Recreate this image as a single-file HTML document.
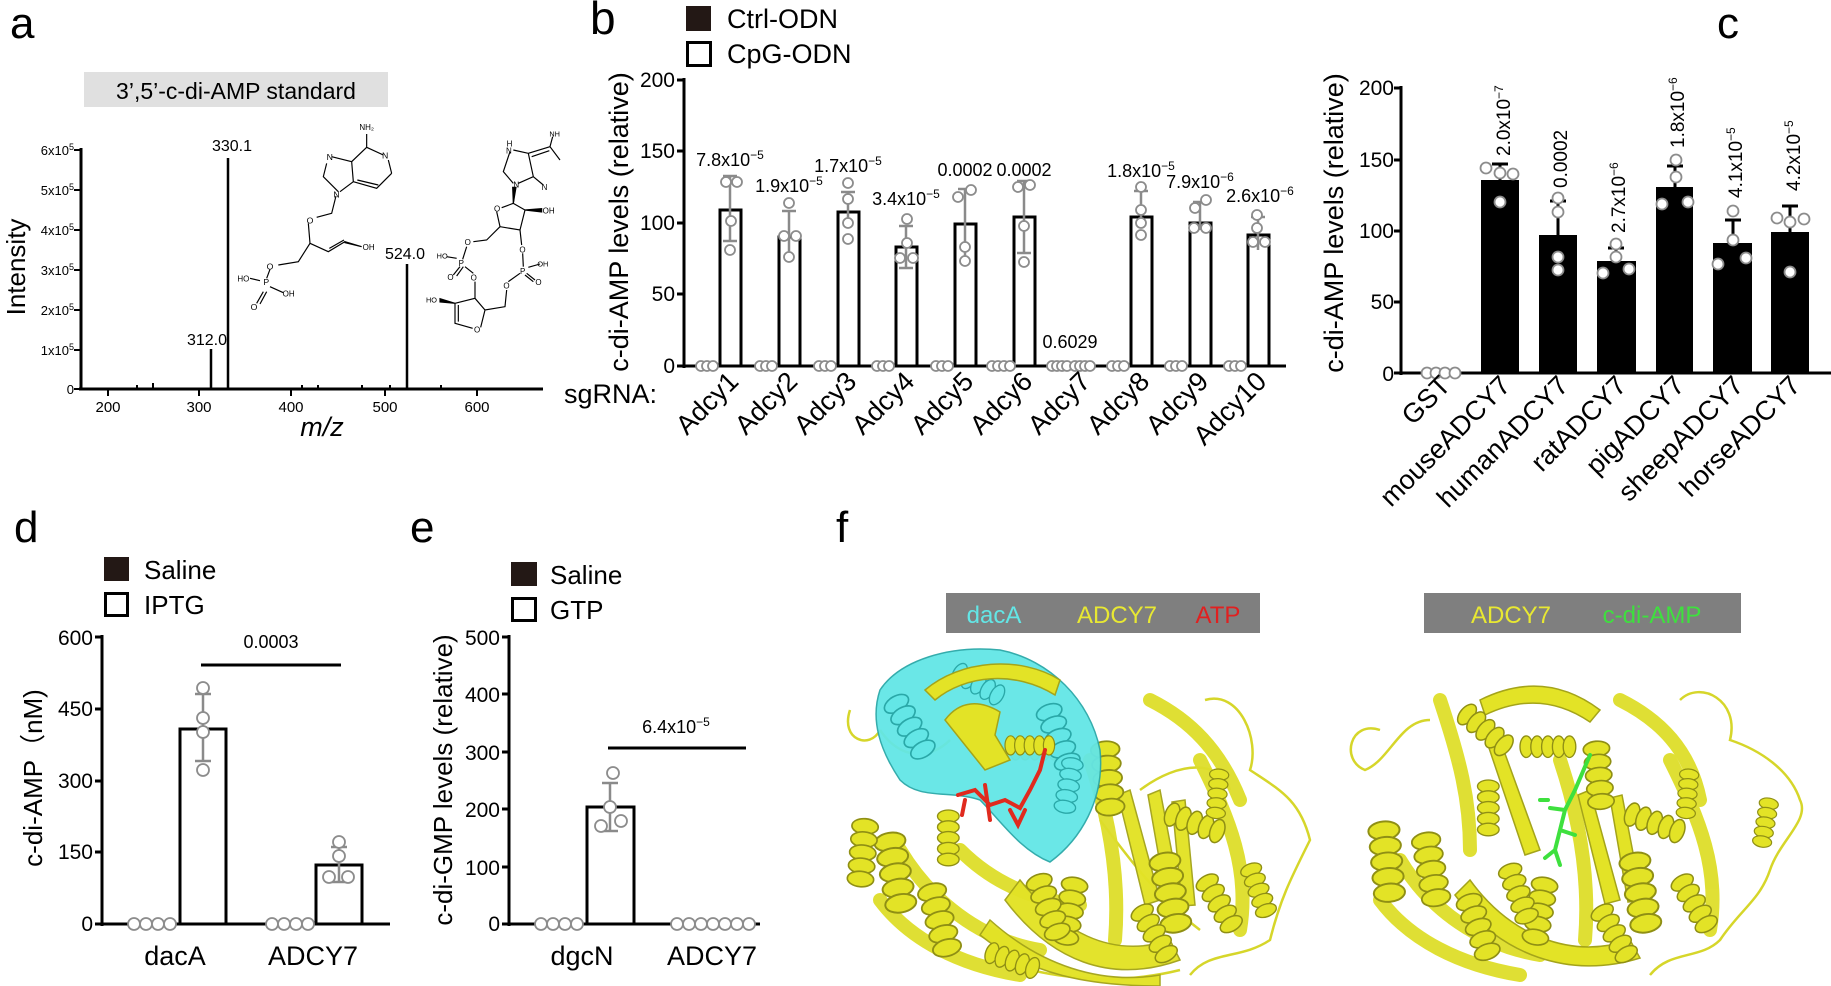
<!DOCTYPE html>
<html><head><meta charset="utf-8"><style>
html,body{margin:0;padding:0;background:#fff}
svg{display:block;font-family:"Liberation Sans",Arial,sans-serif}
</style></head><body>
<svg width="1831" height="986" viewBox="0 0 1831 986" xmlns="http://www.w3.org/2000/svg">
<defs>
<symbol id="hx" viewBox="0 0 64 26" overflow="visible">
<g fill="#e3e326" stroke="#8f8f14" stroke-width="1.5">
<ellipse cx="7" cy="13" rx="7" ry="12"/><ellipse cx="19" cy="13" rx="7" ry="12"/><ellipse cx="31" cy="13" rx="7" ry="12"/><ellipse cx="43" cy="13" rx="7" ry="12"/><ellipse cx="55" cy="13" rx="7" ry="12"/>
</g></symbol>
<symbol id="hc" viewBox="0 0 64 26" overflow="visible">
<g fill="#63e6e6" stroke="#2aa8a8" stroke-width="1.5">
<ellipse cx="7" cy="13" rx="7" ry="12"/><ellipse cx="19" cy="13" rx="7" ry="12"/><ellipse cx="31" cy="13" rx="7" ry="12"/><ellipse cx="43" cy="13" rx="7" ry="12"/><ellipse cx="55" cy="13" rx="7" ry="12"/>
</g></symbol>
</defs>

<!-- ================= Panel a ================= -->
<text x="10" y="38" font-size="44">a</text>
<rect x="84" y="72" width="304" height="35" fill="#e0e0e0"/>
<text x="236" y="99" font-size="23" text-anchor="middle">3’,5’-c-di-AMP standard</text>
<g stroke="#000" stroke-width="3" fill="none">
<line x1="81" y1="148" x2="81" y2="390"/>
<line x1="79" y1="389" x2="543" y2="389"/>
</g>
<g stroke="#000" stroke-width="2">
<line x1="74" y1="150" x2="81" y2="150"/><line x1="74" y1="190" x2="81" y2="190"/><line x1="74" y1="230" x2="81" y2="230"/><line x1="74" y1="270" x2="81" y2="270"/><line x1="74" y1="310" x2="81" y2="310"/><line x1="74" y1="350" x2="81" y2="350"/><line x1="74" y1="389" x2="81" y2="389"/>
<line x1="108" y1="389" x2="108" y2="396"/><line x1="199" y1="389" x2="199" y2="396"/><line x1="291" y1="389" x2="291" y2="396"/><line x1="385" y1="389" x2="385" y2="396"/><line x1="477" y1="389" x2="477" y2="396"/>
<line x1="137" y1="385" x2="137" y2="389"/><line x1="153" y1="383" x2="153" y2="389"/><line x1="302" y1="385" x2="302" y2="389"/><line x1="318" y1="385" x2="318" y2="389"/><line x1="362" y1="385" x2="362" y2="389"/><line x1="390" y1="385" x2="390" y2="389"/><line x1="441" y1="385" x2="441" y2="389"/>
</g>
<g stroke="#000" stroke-width="2.5">
<line x1="211" y1="389" x2="211" y2="349"/><line x1="228" y1="389" x2="228" y2="158"/><line x1="407" y1="389" x2="407" y2="264"/>
</g>
<g font-size="16" text-anchor="middle">
<text x="207" y="345">312.0</text><text x="232" y="151">330.1</text><text x="405" y="259">524.0</text>
</g>
<g font-size="13" text-anchor="end">
<text x="74" y="155">6x10<tspan font-size="9" dy="-5">5</tspan></text>
<text x="74" y="195">5x10<tspan font-size="9" dy="-5">5</tspan></text>
<text x="74" y="235">4x10<tspan font-size="9" dy="-5">5</tspan></text>
<text x="74" y="275">3x10<tspan font-size="9" dy="-5">5</tspan></text>
<text x="74" y="315">2x10<tspan font-size="9" dy="-5">5</tspan></text>
<text x="74" y="355">1x10<tspan font-size="9" dy="-5">5</tspan></text>
<text x="74" y="394">0</text>
</g>
<g font-size="15" text-anchor="middle">
<text x="108" y="412">200</text><text x="199" y="412">300</text><text x="291" y="412">400</text><text x="385" y="412">500</text><text x="477" y="412">600</text>
</g>
<text x="322" y="436" font-size="27" font-style="italic" text-anchor="middle">m/z</text>
<text transform="translate(25,267) rotate(-90)" font-size="26" text-anchor="middle">Intensity</text>

<g transform="translate(60,110) scale(0.33333)" stroke="#000" stroke-width="3.5" fill="none">
<path d="M920,112 L920,72 M920,112 L970,135 M995,190 L950,235 L880,215 L875,155 L920,112 M985,150 L995,190 M875,155 L815,140 M800,160 L790,200 L835,245 M880,215 L840,245 M955,225 L892,210"/>
<path d="M828,258 L815,310 L770,322 M745,340 L750,400 L715,455 L655,465 M630,478 L620,505 M600,512 L570,505 M630,530 L670,548 M610,545 L590,580 M620,545 L600,582 M750,400 L805,425 L855,395 M808,415 L852,390"/>
<path d="M855,395 L905,410 L855,398Z" fill="#000"/>
<path d="M1350,125 L1330,185 L1360,220 M1375,220 L1420,200 L1405,130 L1360,120 M1405,130 L1470,110 L1500,150 M1420,200 L1450,225 M1470,110 L1478,80 M1415,140 L1468,122"/>
<path d="M1365,235 L1360,280 L1325,293 M1310,305 L1320,350 L1380,360 L1395,300 L1360,280 M1320,350 L1280,390 L1240,395 M1220,410 L1208,448 M1190,445 L1160,440 M1200,470 L1180,495 M1210,470 L1190,498 M1215,470 L1240,490 M1245,515 L1245,565 M1380,360 L1385,405 M1388,430 L1390,470 M1405,472 L1440,462 M1400,490 L1425,510 M1395,495 L1420,515 M1380,490 L1345,515 M1340,540 L1335,590 L1275,600 L1245,565 L1185,580 L1185,640 L1238,655 M1262,652 L1275,600 M1195,585 L1195,635"/>
<path d="M1360,280 L1358,232 L1368,232Z M1395,300 L1445,296 L1445,306Z M1185,580 L1140,566 L1140,576Z" fill="#000"/>
</g>
<g transform="translate(60,110) scale(0.33333)" font-size="30" fill="#000">
<text x="898" y="60" font-size="24">NH₂</text><text x="966" y="145" font-size="26">N</text><text x="800" y="150" font-size="26">N</text><text x="820" y="262" font-size="26">N</text>
<text x="740" y="340" font-size="26">O</text><text x="620" y="478" font-size="26">O</text><text x="610" y="525" font-size="26">P</text><text x="532" y="515" font-size="24">HO</text><text x="668" y="560" font-size="24">OH</text><text x="572" y="600" font-size="26">O</text><text x="908" y="420" font-size="24">OH</text>
<text x="1468" y="80" font-size="22">NH</text><text x="1340" y="110" font-size="24">H</text><text x="1338" y="130" font-size="24">N</text><text x="1360" y="232" font-size="24">N</text><text x="1445" y="240" font-size="24">N</text>
<text x="1302" y="305" font-size="24">O</text><text x="1448" y="310" font-size="24">OH</text><text x="1214" y="405" font-size="24">O</text><text x="1196" y="468" font-size="24">P</text><text x="1130" y="445" font-size="22">HO</text><text x="1162" y="510" font-size="24">O</text><text x="1232" y="512" font-size="24">O</text>
<text x="1378" y="427" font-size="24">O</text><text x="1380" y="492" font-size="24">P</text><text x="1432" y="470" font-size="22">OH</text><text x="1426" y="525" font-size="24">O</text><text x="1330" y="535" font-size="24">O</text><text x="1098" y="578" font-size="22">HO</text><text x="1242" y="668" font-size="24">O</text>
</g>

<!-- ================= Panel b ================= -->
<text x="590" y="34" font-size="46">b</text>
<rect x="686" y="6" width="25" height="25" fill="#231815"/>
<rect x="687.5" y="42.5" width="23" height="23" fill="#fff" stroke="#000" stroke-width="3"/>
<text x="727" y="28" font-size="27">Ctrl-ODN</text>
<text x="727" y="63" font-size="27">CpG-ODN</text>
<text transform="translate(628,222) rotate(-90)" font-size="27" text-anchor="middle">c-di-AMP levels (relative)</text>
<g font-size="21" text-anchor="end">
<text x="675" y="87">200</text><text x="675" y="158">150</text><text x="675" y="230">100</text><text x="675" y="301">50</text><text x="675" y="373">0</text>
</g>
<g stroke="#000" stroke-width="3">
<line x1="684" y1="78" x2="684" y2="368"/>
<line x1="677" y1="80" x2="684" y2="80"/><line x1="677" y1="151" x2="684" y2="151"/><line x1="677" y1="223" x2="684" y2="223"/><line x1="677" y1="294" x2="684" y2="294"/>
<line x1="677" y1="366" x2="1286" y2="366"/>
</g>
<g fill="#fff" stroke="#000" stroke-width="3">
<rect x="720" y="210" width="21" height="156"/>
<rect x="779" y="237" width="21" height="129"/>
<rect x="838" y="212" width="21" height="154"/>
<rect x="896" y="247" width="21" height="119"/>
<rect x="955" y="224" width="21" height="142"/>
<rect x="1014" y="217" width="21" height="149"/>
<rect x="1131" y="217" width="21" height="149"/>
<rect x="1190" y="223" width="21" height="143"/>
<rect x="1248" y="235" width="21" height="131"/>
</g>
<g stroke="#8a8a8a" stroke-width="2.5" fill="none">
<path d="M730,176 V241 M723,176 H737 M723,241 H737"/>
<path d="M789,211 V262 M782,211 H796"/>
<path d="M848,192 V226 M841,192 H855"/>
<path d="M906,226 V268 M899,226 H913 M899,268 H913"/>
<path d="M965,189 V260 M958,189 H972"/>
<path d="M1024,181 V253 M1017,181 H1031 M1017,253 H1031"/>
<path d="M1141,191 V225 M1134,191 H1148"/>
<path d="M1200,202 V230 M1193,202 H1207"/>
<path d="M1258,217 V250 M1251,217 H1265"/>
</g>
<g fill="#fff" stroke="#8c8c8c" stroke-width="1.8">
<circle cx="726" cy="182" r="5"/><circle cx="737" cy="182" r="5"/><circle cx="731" cy="221" r="5"/><circle cx="730" cy="250" r="5"/>
<circle cx="789" cy="203" r="5"/><circle cx="784" cy="236" r="5"/><circle cx="796" cy="236" r="5"/><circle cx="789" cy="257" r="5"/>
<circle cx="848" cy="183" r="5"/><circle cx="848" cy="199" r="5"/><circle cx="848" cy="223" r="5"/><circle cx="848" cy="239" r="5"/>
<circle cx="907" cy="219" r="5"/><circle cx="907" cy="243" r="5"/><circle cx="900" cy="258" r="5"/><circle cx="913" cy="258" r="5"/>
<circle cx="958" cy="197" r="5"/><circle cx="971" cy="190" r="5"/><circle cx="965" cy="247" r="5"/><circle cx="965" cy="261" r="5"/>
<circle cx="1018" cy="187" r="5"/><circle cx="1030" cy="185" r="5"/><circle cx="1024" cy="226" r="5"/><circle cx="1024" cy="262" r="5"/>
<circle cx="1141" cy="187" r="5"/><circle cx="1141" cy="210" r="5"/><circle cx="1141" cy="223" r="5"/><circle cx="1141" cy="235" r="5"/>
<circle cx="1195" cy="208" r="5"/><circle cx="1206" cy="200" r="5"/><circle cx="1194" cy="228" r="5"/><circle cx="1206" cy="228" r="5"/>
<circle cx="1257" cy="215" r="5"/><circle cx="1257" cy="228" r="5"/><circle cx="1253" cy="242" r="5"/><circle cx="1265" cy="242" r="5"/>
<circle cx="701" cy="366" r="5"/><circle cx="707" cy="366" r="5"/><circle cx="713" cy="366" r="5"/>
<circle cx="760" cy="366" r="5"/><circle cx="766" cy="366" r="5"/><circle cx="772" cy="366" r="5"/>
<circle cx="819" cy="366" r="5"/><circle cx="825" cy="366" r="5"/><circle cx="831" cy="366" r="5"/>
<circle cx="877" cy="366" r="5"/><circle cx="883" cy="366" r="5"/><circle cx="889" cy="366" r="5"/>
<circle cx="936" cy="366" r="5"/><circle cx="942" cy="366" r="5"/><circle cx="948" cy="366" r="5"/>
<circle cx="992" cy="366" r="5"/><circle cx="998" cy="366" r="5"/><circle cx="1004" cy="366" r="5"/><circle cx="1010" cy="366" r="5"/>
<circle cx="1052" cy="366" r="5"/><circle cx="1057" cy="366" r="5"/><circle cx="1062" cy="366" r="5"/><circle cx="1067" cy="366" r="5"/>
<circle cx="1075" cy="366" r="5"/><circle cx="1080" cy="366" r="5"/><circle cx="1085" cy="366" r="5"/><circle cx="1090" cy="366" r="5"/>
<circle cx="1112" cy="366" r="5"/><circle cx="1118" cy="366" r="5"/><circle cx="1124" cy="366" r="5"/>
<circle cx="1170" cy="366" r="5"/><circle cx="1176" cy="366" r="5"/><circle cx="1182" cy="366" r="5"/>
<circle cx="1229" cy="366" r="5"/><circle cx="1235" cy="366" r="5"/><circle cx="1241" cy="366" r="5"/>
</g>
<g font-size="18" text-anchor="middle">
<text x="730" y="166">7.8x10<tspan font-size="12" dy="-7">−5</tspan></text>
<text x="789" y="192">1.9x10<tspan font-size="12" dy="-7">−5</tspan></text>
<text x="848" y="172">1.7x10<tspan font-size="12" dy="-7">−5</tspan></text>
<text x="906" y="205">3.4x10<tspan font-size="12" dy="-7">−5</tspan></text>
<text x="965" y="176">0.0002</text>
<text x="1024" y="176">0.0002</text>
<text x="1070" y="348">0.6029</text>
<text x="1141" y="177">1.8x10<tspan font-size="12" dy="-7">−5</tspan></text>
<text x="1200" y="188">7.9x10<tspan font-size="12" dy="-7">−6</tspan></text>
<text x="1260" y="202">2.6x10<tspan font-size="12" dy="-7">−6</tspan></text>
</g>
<text x="564" y="403" font-size="27">sgRNA:</text>
<g font-size="27" text-anchor="end">
<text transform="translate(740,383) rotate(-45)">Adcy1</text>
<text transform="translate(799,383) rotate(-45)">Adcy2</text>
<text transform="translate(858,383) rotate(-45)">Adcy3</text>
<text transform="translate(916,383) rotate(-45)">Adcy4</text>
<text transform="translate(975,383) rotate(-45)">Adcy5</text>
<text transform="translate(1034,383) rotate(-45)">Adcy6</text>
<text transform="translate(1092,383) rotate(-45)">Adcy7</text>
<text transform="translate(1151,383) rotate(-45)">Adcy8</text>
<text transform="translate(1210,383) rotate(-45)">Adcy9</text>
<text transform="translate(1268,383) rotate(-45)">Adcy10</text>
</g>

<!-- ================= Panel c ================= -->
<text x="1717" y="38" font-size="44">c</text>
<text transform="translate(1343,223) rotate(-90)" font-size="27" text-anchor="middle">c-di-AMP levels (relative)</text>
<g font-size="21" text-anchor="end">
<text x="1394" y="95">200</text><text x="1394" y="167">150</text><text x="1394" y="238">100</text><text x="1394" y="309">50</text><text x="1394" y="381">0</text>
</g>
<g stroke="#000" stroke-width="3">
<line x1="1401" y1="86" x2="1401" y2="375"/>
<line x1="1394" y1="88" x2="1401" y2="88"/><line x1="1394" y1="160" x2="1401" y2="160"/><line x1="1394" y1="231" x2="1401" y2="231"/><line x1="1394" y1="302" x2="1401" y2="302"/>
<line x1="1394" y1="373" x2="1831" y2="373"/>
</g>
<g fill="#000">
<rect x="1481" y="180" width="38" height="193"/>
<rect x="1539" y="235" width="38" height="138"/>
<rect x="1597" y="261" width="39" height="112"/>
<rect x="1656" y="187" width="37" height="186"/>
<rect x="1713" y="243" width="39" height="130"/>
<rect x="1771" y="232" width="38" height="141"/>
</g>
<g stroke="#000" stroke-width="3">
<path d="M1500,180 V164 M1492,164 H1508"/>
<path d="M1558,235 V201 M1550,201 H1566"/>
<path d="M1616,261 V248 M1608,248 H1624"/>
<path d="M1675,187 V166 M1667,166 H1683"/>
<path d="M1733,243 V220 M1725,220 H1741"/>
<path d="M1790,232 V206 M1782,206 H1798"/>
</g>
<g fill="#fff" stroke="#8c8c8c" stroke-width="1.8">
<circle cx="1486" cy="168" r="5.5"/><circle cx="1500" cy="173" r="5.5"/><circle cx="1513" cy="174" r="5.5"/><circle cx="1500" cy="202" r="5.5"/>
<circle cx="1558" cy="198" r="5.5"/><circle cx="1558" cy="212" r="5.5"/><circle cx="1558" cy="257" r="5.5"/><circle cx="1558" cy="270" r="5.5"/>
<circle cx="1616" cy="244" r="5.5"/><circle cx="1616" cy="257" r="5.5"/><circle cx="1603" cy="273" r="5.5"/><circle cx="1629" cy="269" r="5.5"/>
<circle cx="1676" cy="160" r="5.5"/><circle cx="1676" cy="177" r="5.5"/><circle cx="1662" cy="204" r="5.5"/><circle cx="1688" cy="202" r="5.5"/>
<circle cx="1733" cy="211" r="5.5"/><circle cx="1733" cy="240" r="5.5"/><circle cx="1718" cy="264" r="5.5"/><circle cx="1746" cy="258" r="5.5"/>
<circle cx="1777" cy="218" r="5.5"/><circle cx="1790" cy="222" r="5.5"/><circle cx="1804" cy="219" r="5.5"/><circle cx="1790" cy="272" r="5.5"/>
<circle cx="1427" cy="373" r="5.5"/><circle cx="1436" cy="373" r="5.5"/><circle cx="1445" cy="373" r="5.5"/><circle cx="1455" cy="373" r="5.5"/>
</g>
<g font-size="19">
<text transform="translate(1510,156) rotate(-90)">2.0x10<tspan font-size="12" dy="-7">−7</tspan></text>
<text transform="translate(1567,188) rotate(-90)">0.0002</text>
<text transform="translate(1625,233) rotate(-90)">2.7x10<tspan font-size="12" dy="-7">−6</tspan></text>
<text transform="translate(1684,148) rotate(-90)">1.8x10<tspan font-size="12" dy="-7">−6</tspan></text>
<text transform="translate(1742,198) rotate(-90)">4.1x10<tspan font-size="12" dy="-7">−5</tspan></text>
<text transform="translate(1800,191) rotate(-90)">4.2x10<tspan font-size="12" dy="-7">−5</tspan></text>
</g>
<g font-size="27" text-anchor="end">
<text transform="translate(1452,387) rotate(-45)">GST</text>
<text transform="translate(1512,387) rotate(-45)">mouseADCY7</text>
<text transform="translate(1570,387) rotate(-45)">humanADCY7</text>
<text transform="translate(1628,387) rotate(-45)">ratADCY7</text>
<text transform="translate(1686,387) rotate(-45)">pigADCY7</text>
<text transform="translate(1745,387) rotate(-45)">sheepADCY7</text>
<text transform="translate(1802,387) rotate(-45)">horseADCY7</text>
</g>

<!-- ================= Panel d ================= -->
<text x="14" y="542" font-size="44">d</text>
<rect x="104" y="557" width="25" height="24" fill="#231815"/>
<rect x="105.5" y="593.5" width="22" height="22" fill="#fff" stroke="#000" stroke-width="3"/>
<text x="144" y="579" font-size="26">Saline</text>
<text x="144" y="614" font-size="26">IPTG</text>
<text transform="translate(42,778) rotate(-90)" font-size="26" text-anchor="middle">c-di-AMP（nM)</text>
<g font-size="21" text-anchor="end">
<text x="93" y="645">600</text><text x="93" y="716">450</text><text x="93" y="788">300</text><text x="93" y="859">150</text><text x="93" y="931">0</text>
</g>
<g stroke="#000" stroke-width="3">
<line x1="102" y1="635" x2="102" y2="926"/>
<line x1="95" y1="637" x2="102" y2="637"/><line x1="95" y1="709" x2="102" y2="709"/><line x1="95" y1="781" x2="102" y2="781"/><line x1="95" y1="852" x2="102" y2="852"/>
<line x1="95" y1="924" x2="390" y2="924"/>
<line x1="201" y1="665" x2="341" y2="665"/>
</g>
<g fill="#fff" stroke="#000" stroke-width="3">
<rect x="180" y="729" width="46" height="195"/>
<rect x="316" y="865" width="46" height="59"/>
</g>
<g stroke="#8a8a8a" stroke-width="2.5">
<path d="M203,694 V761 M195,694 H211 M195,761 H211"/>
<path d="M339,847 V882 M331,847 H347 M331,882 H347"/>
</g>
<g fill="#fff" stroke="#8c8c8c" stroke-width="1.8">
<circle cx="203" cy="688" r="6"/><circle cx="203" cy="718" r="6"/><circle cx="203" cy="732" r="6"/><circle cx="203" cy="770" r="6"/>
<circle cx="339" cy="842" r="6"/><circle cx="339" cy="856" r="6"/><circle cx="329" cy="877" r="6"/><circle cx="348" cy="877" r="6"/>
<circle cx="134" cy="924" r="6"/><circle cx="146" cy="924" r="6"/><circle cx="158" cy="924" r="6"/><circle cx="170" cy="924" r="6"/>
<circle cx="272" cy="924" r="6"/><circle cx="284" cy="924" r="6"/><circle cx="296" cy="924" r="6"/><circle cx="308" cy="924" r="6"/>
</g>
<text x="271" y="648" font-size="18" text-anchor="middle">0.0003</text>
<g font-size="27" text-anchor="middle">
<text x="175" y="965">dacA</text><text x="313" y="965">ADCY7</text>
</g>

<!-- ================= Panel e ================= -->
<text x="410" y="542" font-size="44">e</text>
<rect x="511" y="562" width="26" height="24" fill="#231815"/>
<rect x="512.5" y="598.5" width="23" height="22" fill="#fff" stroke="#000" stroke-width="3"/>
<text x="550" y="584" font-size="26">Saline</text>
<text x="550" y="619" font-size="26">GTP</text>
<text transform="translate(452,780) rotate(-90)" font-size="26" text-anchor="middle">c-di-GMP levels (relative)</text>
<g font-size="21" text-anchor="end">
<text x="500" y="645">500</text><text x="500" y="702">400</text><text x="500" y="760">300</text><text x="500" y="817">200</text><text x="500" y="875">100</text><text x="500" y="931">0</text>
</g>
<g stroke="#000" stroke-width="3">
<line x1="509" y1="635" x2="509" y2="926"/>
<line x1="502" y1="637" x2="509" y2="637"/><line x1="502" y1="694" x2="509" y2="694"/><line x1="502" y1="752" x2="509" y2="752"/><line x1="502" y1="809" x2="509" y2="809"/><line x1="502" y1="867" x2="509" y2="867"/>
<line x1="502" y1="924" x2="760" y2="924"/>
<line x1="608" y1="748" x2="746" y2="748"/>
</g>
<rect x="587" y="807" width="47" height="117" fill="#fff" stroke="#000" stroke-width="3"/>
<path d="M610,783 V831 M602,783 H618 M602,831 H618" stroke="#8a8a8a" stroke-width="2.5"/>
<g fill="#fff" stroke="#8c8c8c" stroke-width="1.8">
<circle cx="613" cy="773" r="6"/><circle cx="610" cy="807" r="6"/><circle cx="621" cy="821" r="6"/><circle cx="601" cy="826" r="6"/>
<circle cx="541" cy="924" r="6"/><circle cx="553" cy="924" r="6"/><circle cx="565" cy="924" r="6"/><circle cx="577" cy="924" r="6"/>
<circle cx="677" cy="924" r="6"/><circle cx="689" cy="924" r="6"/><circle cx="701" cy="924" r="6"/><circle cx="713" cy="924" r="6"/><circle cx="725" cy="924" r="6"/><circle cx="737" cy="924" r="6"/><circle cx="749" cy="924" r="6"/>
</g>
<text x="676" y="733" font-size="18" text-anchor="middle">6.4x10<tspan font-size="12" dy="-7">−5</tspan></text>
<g font-size="27" text-anchor="middle">
<text x="582" y="965">dgcN</text><text x="712" y="965">ADCY7</text>
</g>

<!-- ================= Panel f ================= -->
<text x="836" y="542" font-size="44">f</text>
<rect x="946" y="593" width="314" height="40" fill="#7f7f7f"/>
<g font-size="24" text-anchor="middle">
<text x="994" y="623" fill="#63e6e6">dacA</text>
<text x="1117" y="623" fill="#e8e832">ADCY7</text>
<text x="1218" y="623" fill="#e02020">ATP</text>
</g>
<rect x="1424" y="593" width="317" height="40" fill="#7f7f7f"/>
<g font-size="24" text-anchor="middle">
<text x="1511" y="623" fill="#e8e832">ADCY7</text>
<text x="1652" y="623" fill="#3ee03e">c-di-AMP</text>
</g>

<!-- left protein -->
<g>
<g fill="none" stroke="#d6d62a" stroke-width="2.5">
<path d="M1205,700 C1240,690 1260,740 1250,770 C1280,790 1300,800 1310,840 C1290,880 1280,900 1270,940 C1240,960 1210,950 1190,975 M1140,790 C1180,760 1220,760 1230,790 M850,710 C840,740 870,750 880,730 M880,730 C900,760 930,760 950,740 M1100,820 C1130,860 1160,900 1200,930 M1000,960 C1050,980 1120,985 1180,970"/>
</g>
<g fill="none" stroke="#dede2a" stroke-width="14" stroke-linecap="round" opacity="0.95">
<path d="M900,850 C930,900 980,940 1040,950"/>
<path d="M880,900 C910,940 960,965 1020,975"/>
<path d="M1090,760 C1110,820 1120,880 1115,940"/>
<path d="M1200,760 C1230,820 1250,870 1240,930"/>
<path d="M1150,700 C1190,720 1220,750 1240,800"/>
<path d="M960,850 C990,880 1030,900 1080,905"/>
</g>
<g fill="#e3e326" stroke="#a4a41a" stroke-width="1.5" opacity="0.97">
<path d="M1020,880 C1060,930 1110,960 1170,940 L1180,960 C1110,985 1050,960 1005,900Z"/>
<path d="M990,920 C1040,965 1100,985 1160,975 L1160,986 C1090,986 1030,975 980,935Z"/>
<path d="M1130,790 L1160,900 L1145,905 L1118,795Z"/>
<path d="M1160,790 L1180,895 L1166,898 L1148,795Z"/>
<path d="M1185,800 L1195,905 L1182,906 L1172,802Z"/>
</g>
<g>
<use href="#hx" width="64" height="26" transform="translate(905,830) rotate(80) scale(1.3)"/>
<use href="#hx" width="64" height="26" transform="translate(880,820) rotate(95) scale(1.1)"/>
<use href="#hx" width="64" height="26" transform="translate(945,880) rotate(75) scale(1.2)"/>
<use href="#hx" width="64" height="26" transform="translate(1120,740) rotate(85) scale(1.2)"/>
<use href="#hx" width="64" height="26" transform="translate(1170,800) rotate(20) scale(1)"/>
<use href="#hx" width="64" height="26" transform="translate(1180,850) rotate(80) scale(1.3)"/>
<use href="#hx" width="64" height="26" transform="translate(1215,870) rotate(60) scale(1)"/>
<use href="#hx" width="64" height="26" transform="translate(1090,880) rotate(100) scale(1.1)"/>
<use href="#hx" width="64" height="26" transform="translate(1010,740) rotate(0) scale(0.8)"/>
<use href="#hx" width="64" height="26" transform="translate(1230,770) rotate(95) scale(0.8)"/>
<use href="#hx" width="64" height="26" transform="translate(990,940) rotate(20) scale(0.9)"/>
<use href="#hx" width="64" height="26" transform="translate(1050,870) rotate(70) scale(1.1)"/>
<use href="#hx" width="64" height="26" transform="translate(1150,900) rotate(60) scale(1)"/>
<use href="#hx" width="64" height="26" transform="translate(1260,860) rotate(70) scale(0.9)"/>
<use href="#hx" width="64" height="26" transform="translate(960,810) rotate(90) scale(0.9)"/>
</g>
<g fill="#63e6e6" stroke="#2aa8a8" stroke-width="1.5" opacity="0.95">
<path d="M880,690 C900,660 950,645 1000,650 C1050,660 1090,700 1100,750 C1105,800 1080,840 1050,862 C1020,850 1000,820 980,800 C950,790 920,800 900,780 C880,750 870,720 880,690Z"/>
</g>
<g>
<use href="#hc" width="64" height="26" transform="translate(905,690) rotate(60) scale(1.1)"/>
<use href="#hc" width="64" height="26" transform="translate(1060,700) rotate(70) scale(1.1)"/>
<use href="#hc" width="64" height="26" transform="translate(960,660) rotate(30) scale(0.9)"/>
<use href="#hc" width="64" height="26" transform="translate(1085,760) rotate(100) scale(0.9)"/>
</g>
<g fill="#e3e326" stroke="#a4a41a" stroke-width="1.5">
<path d="M925,690 C960,660 1020,655 1060,680 L1055,695 C1015,670 965,675 935,700Z"/>
<path d="M945,720 C960,700 980,700 1000,712 L995,735 L1010,760 L985,770 Z"/>
</g>
<use href="#hx" width="64" height="26" transform="translate(1005,735) rotate(0) scale(0.8)"/>
<g stroke="#e02a1e" stroke-width="4" fill="none" stroke-linecap="round">
<path d="M958,795 L975,790 L990,805 L1005,800 L1020,808 L1030,790 L1040,770 L1045,750 M985,785 L990,820 M1010,810 L1018,825 L1025,810 M965,800 L962,815"/>
</g>
</g>

<!-- right protein -->
<g>
<g fill="none" stroke="#d6d62a" stroke-width="2.5">
<path d="M1680,700 C1700,680 1740,700 1730,740 C1760,750 1790,770 1800,800 C1810,820 1780,840 1770,870 C1760,900 1740,910 1720,940 C1700,960 1670,950 1650,975 M1380,730 C1350,720 1340,760 1365,770 C1390,760 1400,720 1430,720"/>
</g>
<g fill="none" stroke="#dede2a" stroke-width="14" stroke-linecap="round" opacity="0.95">
<path d="M1400,860 C1430,910 1480,945 1540,955"/>
<path d="M1380,900 C1410,940 1460,965 1520,975"/>
<path d="M1560,760 C1580,820 1590,880 1585,940"/>
<path d="M1670,760 C1700,820 1720,870 1710,930"/>
<path d="M1440,700 C1460,760 1470,800 1470,850"/>
<path d="M1620,700 C1660,720 1690,750 1700,800"/>
</g>
<g fill="#e3e326" stroke="#a4a41a" stroke-width="1.5">
<path d="M1480,700 C1520,680 1560,680 1600,710 L1590,722 C1555,698 1520,698 1485,715Z"/>
<path d="M1470,880 C1510,935 1570,960 1630,940 L1640,958 C1570,980 1500,955 1455,895Z"/>
<path d="M1590,790 L1620,900 L1605,904 L1578,795Z"/>
<path d="M1622,795 L1642,900 L1628,902 L1610,798Z"/>
<path d="M1500,740 L1540,850 L1525,855 L1488,745Z"/>
</g>
<g>
<use href="#hx" width="64" height="26" transform="translate(1400,820) rotate(85) scale(1.3)"/>
<use href="#hx" width="64" height="26" transform="translate(1440,830) rotate(80) scale(1.2)"/>
<use href="#hx" width="64" height="26" transform="translate(1480,890) rotate(70) scale(1.1)"/>
<use href="#hx" width="64" height="26" transform="translate(1520,735) rotate(0) scale(0.9)"/>
<use href="#hx" width="64" height="26" transform="translate(1610,740) rotate(85) scale(1.1)"/>
<use href="#hx" width="64" height="26" transform="translate(1630,800) rotate(20) scale(1)"/>
<use href="#hx" width="64" height="26" transform="translate(1650,850) rotate(80) scale(1.3)"/>
<use href="#hx" width="64" height="26" transform="translate(1690,870) rotate(60) scale(1)"/>
<use href="#hx" width="64" height="26" transform="translate(1560,880) rotate(100) scale(1.1)"/>
<use href="#hx" width="64" height="26" transform="translate(1470,700) rotate(40) scale(1)"/>
<use href="#hx" width="64" height="26" transform="translate(1700,770) rotate(95) scale(0.8)"/>
<use href="#hx" width="64" height="26" transform="translate(1780,800) rotate(100) scale(0.8)"/>
<use href="#hx" width="64" height="26" transform="translate(1520,860) rotate(70) scale(1)"/>
<use href="#hx" width="64" height="26" transform="translate(1610,900) rotate(60) scale(1)"/>
<use href="#hx" width="64" height="26" transform="translate(1500,780) rotate(90) scale(0.9)"/>
</g>
<g stroke="#3ee03e" stroke-width="4" fill="none" stroke-linecap="round">
<path d="M1590,755 L1575,790 L1565,810 L1560,830 L1555,850 L1560,865 M1565,810 L1550,808 M1560,830 L1575,835 M1555,850 L1545,858 M1540,800 L1548,800"/>
</g>
</g>
</svg>
</body></html>
